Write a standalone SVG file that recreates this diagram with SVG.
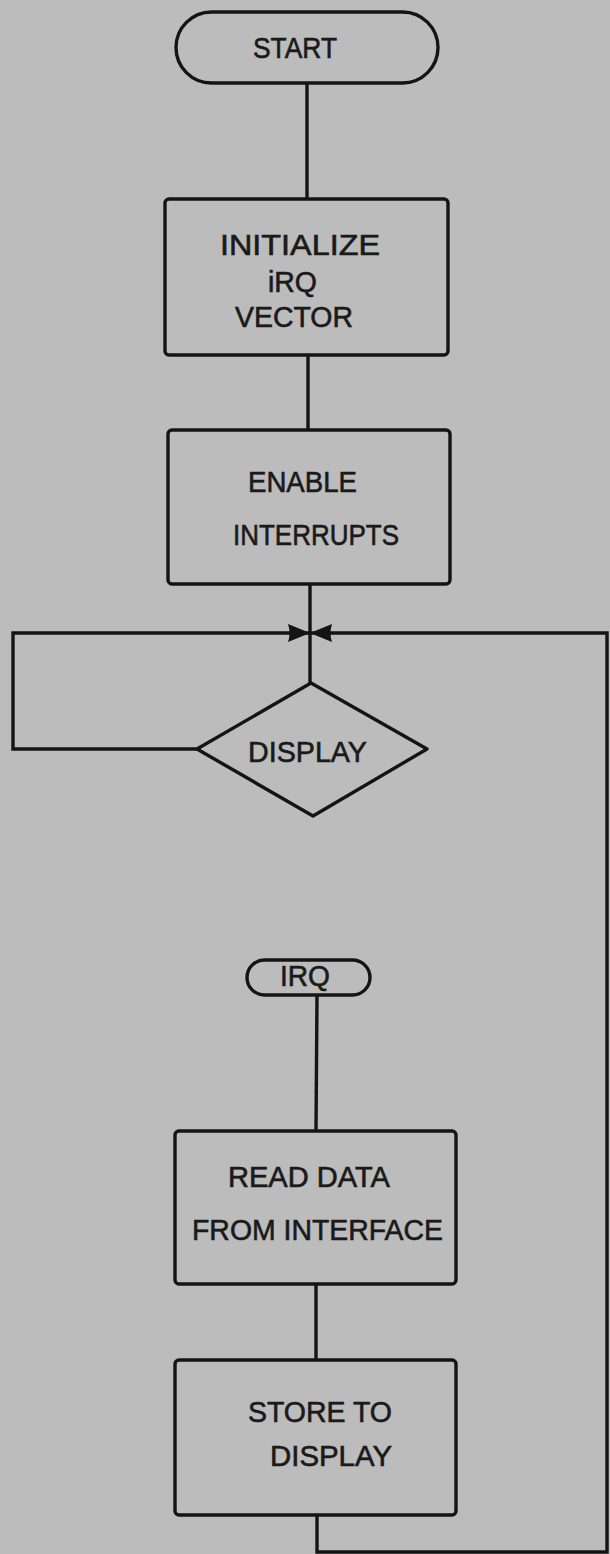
<svg xmlns="http://www.w3.org/2000/svg" width="610" height="1554" viewBox="0 0 610 1554">
<defs>
<style>
.bg{fill:#bcbcbc}
.shape{fill:none;stroke:#141414;stroke-width:3.4;stroke-linejoin:round}
.line{fill:none;stroke:#141414;stroke-width:3.4}
.t{font-family:"Liberation Sans",Arial,sans-serif;font-size:29px;fill:#1a1a1a;stroke:#1a1a1a;stroke-width:0.6}
</style>
<marker id="arr" viewBox="0 0 22 20" refX="22" refY="10" markerWidth="22" markerHeight="20" markerUnits="userSpaceOnUse" orient="auto">
<path d="M0,1 Q3,10 0,19 L22,10 Z" fill="#141414"/>
</marker>
</defs>
<rect class="bg" x="0" y="0" width="610" height="1554"/>
<g id="connectors">
<line class="line" x1="307" y1="82" x2="307" y2="199"/>
<line class="line" x1="308" y1="355" x2="308" y2="430"/>
<line class="line" x1="310" y1="584" x2="310" y2="683"/>
<polyline class="line" points="197,749 13,749 13,633 310,633" marker-end="url(#arr)"/>
<polyline class="line" points="317,1515 317,1552 607,1552 607,633 310,633" marker-end="url(#arr)"/>
<line class="line" x1="317" y1="995" x2="316" y2="1131"/>
<line class="line" x1="316" y1="1284" x2="316" y2="1360"/>
</g>
<g id="start">
<rect class="shape" x="176" y="12" width="262" height="71" rx="35.5"/>
<text class="t" x="253" y="58" textLength="84" lengthAdjust="spacingAndGlyphs">START</text>
</g>
<g id="init">
<rect class="shape" x="165" y="199" width="283" height="156" rx="4"/>
<text class="t" x="220" y="255" textLength="160" lengthAdjust="spacingAndGlyphs">INITIALIZE</text>
<text class="t" x="268" y="292" textLength="49" lengthAdjust="spacingAndGlyphs">iRQ</text>
<text class="t" x="235" y="327" textLength="118" lengthAdjust="spacingAndGlyphs">VECTOR</text>
</g>
<g id="enable">
<rect class="shape" x="168" y="430" width="282" height="154" rx="4"/>
<text class="t" x="248" y="492" textLength="109" lengthAdjust="spacingAndGlyphs">ENABLE</text>
<text class="t" x="233" y="545" textLength="166" lengthAdjust="spacingAndGlyphs">INTERRUPTS</text>
</g>
<g id="display">
<polygon class="shape" points="311,683 427,749 313,816 197,749"/>
<text class="t" x="248" y="762" textLength="119" lengthAdjust="spacingAndGlyphs">DISPLAY</text>
</g>
<g id="irq">
<rect class="shape" x="247" y="960" width="123" height="35" rx="17.5"/>
<text class="t" x="280" y="986" font-size="25" textLength="50" lengthAdjust="spacingAndGlyphs">IRQ</text>
</g>
<g id="read">
<rect class="shape" x="175" y="1131" width="281" height="153" rx="4"/>
<text class="t" x="228" y="1187" textLength="162" lengthAdjust="spacingAndGlyphs">READ DATA</text>
<text class="t" x="192" y="1240" textLength="251" lengthAdjust="spacingAndGlyphs">FROM INTERFACE</text>
</g>
<g id="store">
<rect class="shape" x="175" y="1360" width="281" height="155" rx="4"/>
<text class="t" x="248" y="1422" textLength="144" lengthAdjust="spacingAndGlyphs">STORE TO</text>
<text class="t" x="270" y="1466" textLength="122" lengthAdjust="spacingAndGlyphs">DISPLAY</text>
</g>
</svg>
